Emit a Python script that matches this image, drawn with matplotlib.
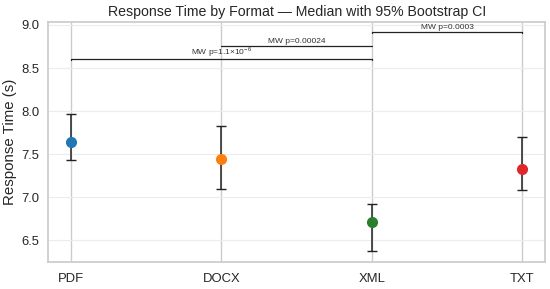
import numpy as np
import matplotlib.pyplot as plt
import seaborn as sns

formats = ["PDF", "DOCX", "XML", "TXT"]
medians = [7.64, 7.44, 6.71, 7.33]
ci_low = [7.43, 7.10, 6.38, 7.08]
ci_high = [7.96, 7.83, 6.92, 7.70]
colors = ["#1f77b4", "#ff7f0e", "#2a7f2e", "#e0272b"]

# pairwise comparisons: (i, j, height, label)
pairs = [(0, 2, 8.60, r"MW p=1.1$\times$10$^{-6}$"),
         (1, 2, 8.76, "MW p=0.00024"),
         (2, 3, 8.92, "MW p=0.0003")]

sns.set_theme(style="whitegrid")
plt.rcParams["font.family"] = ["Liberation Sans", "DejaVu Sans"]
plt.rcParams["mathtext.fontset"] = "custom"
plt.rcParams["mathtext.rm"] = "Liberation Sans"
fig, ax = plt.subplots(figsize=(5.5, 2.89), dpi=100)

x = np.arange(len(formats))
for i in range(len(formats)):
    ax.errorbar(x[i], medians[i],
                yerr=[[medians[i] - ci_low[i]], [ci_high[i] - medians[i]]],
                fmt="o", color=colors[i], ecolor="#222222", elinewidth=1.1,
                capsize=3.3, capthick=1, markersize=7, zorder=3)

for i, j, h, lab in pairs:
    ax.plot([x[i], x[i], x[j], x[j]], [h - 0.01, h, h, h - 0.01],
            color="#222222", lw=0.9)
    ax.text((x[i] + x[j]) / 2, h + 0.005, lab, ha="center", va="bottom",
            fontsize=6, color="#333333")

ax.set_xticks(x)
ax.set_xticklabels(formats)
ax.set_xlim(-0.15, 3.15)
ax.set_ylim(6.245, 9.035)
ax.set_yticks([6.5, 7.0, 7.5, 8.0, 8.5, 9.0])
ax.yaxis.grid(True, color="#ececec", lw=0.8)
ax.xaxis.grid(True, color="#cccccc", lw=1.0)
ax.set_ylabel("Response Time (s)", fontsize=10.8, labelpad=3)
ax.set_title("Response Time by Format — Median with 95% Bootstrap CI", fontsize=10.2, pad=4)
ax.tick_params(axis="y", labelsize=9.4, length=0, pad=6.5)
ax.tick_params(axis="x", labelsize=9.4, length=0, pad=8)

fig.subplots_adjust(left=0.088, right=0.991, top=0.924, bottom=0.093)
fig.savefig("out.png", dpi=100)
